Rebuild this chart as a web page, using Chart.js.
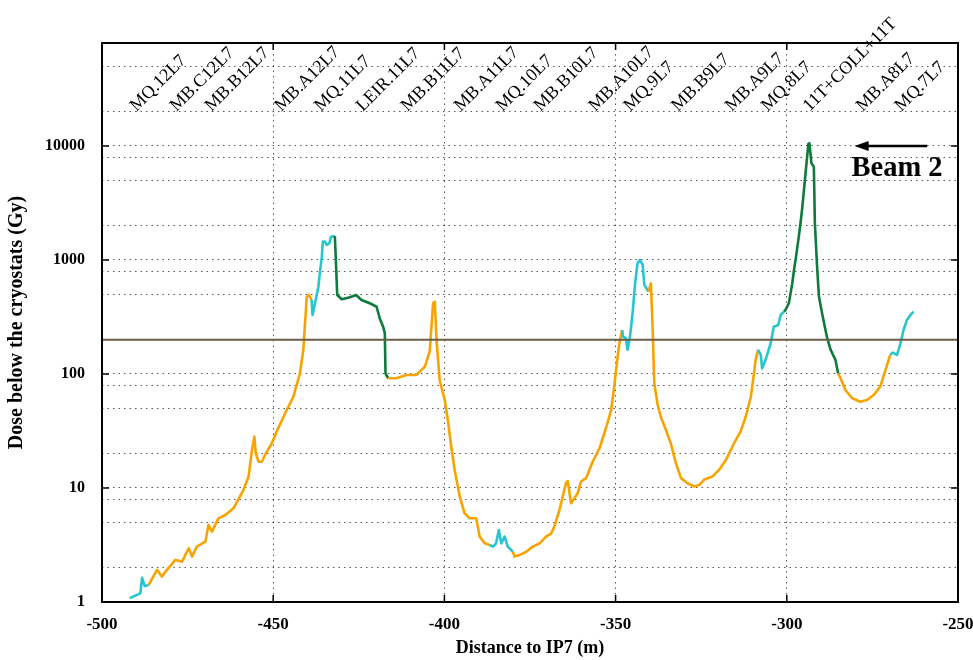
<!DOCTYPE html>
<html>
<head>
<meta charset="utf-8">
<script src="https://cdn.jsdelivr.net/npm/chart.js@4.4.1/dist/chart.umd.min.js"></script>
<style>
  body { margin: 0; background: #fff; }
  #wrap { width: 973px; height: 660px; position: relative; }
</style>
</head>
<body>
<div id="wrap"><canvas id="myChart"></canvas></div>
<script>
// distance to IP7 (m), dose (Gy), zone: 0 = orange, 1 = cyan, 2 = green
const distance = [
    -491.9, -488.8, -488.3, -487.5, -486.4,
    -483.9, -482.5, -481.5, -478.6, -476.6, -474.7, -473.7, -472.3, -469.8, -468.9, -467.9, -466.0, -464.0, -461.6,
    -458.7, -457.2, -456.2, -455.5, -455.1, -454.3, -453.3, -452.4, -450.4, -449.0, -446.5, -444.1, -442.2, -441.2,
    -440.2, -439.5, -438.8,
    -438.5, -437.8, -436.8, -436.5, -435.8, -435.5, -434.9, -434.4, -433.6, -433.1, -432.0,
    -431.7, -431.3, -430.0, -427.6, -425.8, -424.2, -421.8, -419.8, -418.9, -417.9, -417.4, -417.2, -416.4,
    -414.0, -411.1, -408.2, -405.7, -404.3, -403.3, -402.8, -402.3, -401.4, -399.9, -399.0, -398.0, -397.0, -395.5,
    -394.1, -392.6, -390.7, -389.7, -388.2, -386.8,
    -385.8, -384.9, -384.1, -383.4, -382.4, -381.5, -380.0,
    -379.5, -378.1, -376.1, -374.2, -372.2, -370.3, -368.8, -367.9, -366.4, -364.5, -364.0, -363.0, -361.1, -360.1,
    -358.6, -356.7, -354.7, -352.8, -351.3, -350.4, -349.4, -348.9, -348.1,
    -347.8, -347.0, -346.5, -345.8, -345.0, -344.3, -343.6, -342.9, -342.1, -341.6, -340.4,
    -339.7, -339.2, -338.7, -337.8, -336.8, -335.3, -333.9, -332.4, -330.9, -329.0, -327.1, -325.6, -324.2, -321.7,
    -319.8, -317.8, -315.4, -313.5, -312.0, -310.5, -309.6, -309.1, -308.4,
    -307.6, -307.2, -306.2, -304.7, -303.8, -302.5, -301.8, -300.8,
    -300.4, -299.4, -298.4, -297.9, -297.3, -296.5, -296.0, -295.5, -294.8, -294.2, -293.7, -293.4, -292.8, -292.1,
    -291.8, -291.1, -290.6, -289.7, -288.9, -288.2, -287.2, -285.8, -285.0,
    -284.3, -282.9, -280.9, -278.5, -276.6, -274.6, -272.7, -271.2, -269.8,
    -269.1, -267.8, -266.8, -265.9, -264.9, -263.9, -263.0
];
const dose = [
    1.08, 1.19, 1.63, 1.38, 1.41,
    1.91, 1.67, 1.84, 2.34, 2.26, 2.96, 2.50, 3.06, 3.38, 4.74, 4.14, 5.42, 5.80, 6.64,
    9.6, 12.6, 21.5, 28.2, 20.2, 17.0, 17.0, 19.5, 24.7, 31.2, 45.2, 63.2, 101, 163,
    476, 493, 446,
    329, 417, 583, 714, 1069, 1448, 1448, 1354, 1400, 1601, 1625,
    1000, 493, 452, 471, 493, 446, 417, 389, 308, 260, 228, 101, 91.7,
    91.7, 98, 98, 116, 157, 417, 431, 199, 88.6, 59.1, 39.5, 23.0, 14.4, 8.39,
    6.0, 5.42, 5.42, 3.74, 3.27, 3.16,
    3.06, 3.27, 4.28, 3.27, 3.74, 3.06, 2.76,
    2.50, 2.58, 2.76, 3.06, 3.27, 3.74, 4.0, 4.58, 6.41, 11.0, 11.5, 7.34, 8.99, 11.4,
    12.2, 17.0, 22.3, 33.6, 48.3, 77.4, 142, 186, 243,
    212, 206, 163, 212, 352, 625, 935, 1000, 904, 604, 527,
    625, 260, 82.9, 55.3, 42.2, 32.3, 24.7, 16.5, 12.2, 11.0, 10.3, 10.6, 11.8, 12.6,
    14.4, 17.6, 24.7, 31.2, 42.2, 63.2, 101, 133, 163,
    147, 112, 133, 186, 260, 269, 329, 352,
    364, 417, 625, 817, 1069, 1601, 2099, 2842, 4710, 7280, 10420, 10570, 7050, 6580,
    2099, 817, 476, 341, 260, 206, 163, 133, 101,
    91.7, 72.4, 61.2, 57.1, 59.1, 65.4, 77.4, 108, 147,
    154, 147, 186, 243, 298, 329, 352
];
const zone = [
    1, 1, 1, 1, 1,
    0, 0, 0, 0, 0, 0, 0, 0, 0, 0, 0, 0, 0, 0,
    0, 0, 0, 0, 0, 0, 0, 0, 0, 0, 0, 0, 0, 0,
    0, 0, 0,
    1, 1, 1, 1, 1, 1, 1, 1, 1, 1, 1,
    2, 2, 2, 2, 2, 2, 2, 2, 2, 2, 2, 2, 2,
    0, 0, 0, 0, 0, 0, 0, 0, 0, 0, 0, 0, 0, 0,
    0, 0, 0, 0, 0, 0,
    1, 1, 1, 1, 1, 1, 1,
    0, 0, 0, 0, 0, 0, 0, 0, 0, 0, 0, 0, 0, 0,
    0, 0, 0, 0, 0, 0, 0, 0, 0,
    1, 1, 1, 1, 1, 1, 1, 1, 1, 1, 1,
    0, 0, 0, 0, 0, 0, 0, 0, 0, 0, 0, 0, 0, 0,
    0, 0, 0, 0, 0, 0, 0, 0, 0,
    1, 1, 1, 1, 1, 1, 1, 1,
    2, 2, 2, 2, 2, 2, 2, 2, 2, 2, 2, 2, 2, 2,
    2, 2, 2, 2, 2, 2, 2, 2, 2,
    0, 0, 0, 0, 0, 0, 0, 0, 0,
    1, 1, 1, 1, 1, 1, 1
];
const zoneColors = ['#f7a400', '#25c6cf', '#0e7b3d'];

const threshold = 200;

// element names along the top, with their position (m)
const elementNames = ['MQ.12L7', 'MB.C12L7', 'MB.B12L7', 'MB.A12L7', 'MQ.11L7', 'LEIR.11L7', 'MB.B11L7',
    'MB.A11L7', 'MQ.10L7', 'MB.B10L7', 'MB.A10L7', 'MQ.9L7', 'MB.B9L7', 'MB.A9L7', 'MQ.8L7',
    '11T+COLL+11T', 'MB.A8L7', 'MQ.7L7'];
const elementPos = [-491.7, -480.0, -469.8, -449.4, -437.8, -425.6, -412.5,
    -397.0, -384.8, -373.7, -357.7, -347.5, -333.5, -317.8, -307.3,
    -295.1, -279.6, -268.3];

const xTicks = [-500, -450, -400, -350, -300, -250];
const yGrid = [1, 2, 5, 8, 10, 20, 50, 80, 100, 200, 500, 800, 1000, 2000, 5000, 8000, 10000, 20000, 50000, 80000];
const yLabels = [1, 10, 100, 1000, 10000];

const serif = "'Liberation Serif', 'Times New Roman', serif";

const curvePoints = distance.map((d, i) => ({ x: d, y: dose[i] }));

const decor = {
    id: 'decor',
    afterDraw(chart) {
        const ctx = chart.ctx;
        const area = chart.chartArea;
        const xs = chart.scales.x;
        const ys = chart.scales.y;
        ctx.save();
        // frame
        ctx.strokeStyle = '#000';
        ctx.lineWidth = 2;
        ctx.strokeRect(area.left, area.top, area.right - area.left, area.bottom - area.top);
        // inner ticks
        ctx.lineWidth = 1.5;
        ctx.beginPath();
        xTicks.slice(1, -1).forEach(v => {
            const px = xs.getPixelForValue(v);
            ctx.moveTo(px, area.bottom); ctx.lineTo(px, area.bottom - 7);
            ctx.moveTo(px, area.top); ctx.lineTo(px, area.top + 7);
        });
        yLabels.forEach(v => {
            const py = ys.getPixelForValue(v);
            ctx.moveTo(area.left, py); ctx.lineTo(area.left + 7, py);
            ctx.moveTo(area.right, py); ctx.lineTo(area.right - 7, py);
        });
        ctx.stroke();

        // element labels
        ctx.fillStyle = '#000';
        ctx.font = '18px ' + serif;
        ctx.textAlign = 'left';
        ctx.textBaseline = 'alphabetic';
        elementNames.forEach((name, i) => {
            ctx.save();
            ctx.translate(xs.getPixelForValue(elementPos[i]) + 6, area.top + 69);
            ctx.rotate(-Math.PI / 4);
            ctx.fillText(name, 0, 0);
            ctx.restore();
        });

        // beam direction
        const ay = ys.getPixelForValue(10000);
        const ax0 = xs.getPixelForValue(-259.0);
        const ax1 = xs.getPixelForValue(-280.2);
        ctx.strokeStyle = '#000';
        ctx.lineWidth = 2.5;
        ctx.beginPath();
        ctx.moveTo(ax0, ay); ctx.lineTo(ax1 + 8, ay);
        ctx.stroke();
        ctx.fillStyle = '#000';
        ctx.beginPath();
        ctx.moveTo(ax1, ay);
        ctx.lineTo(ax1 + 14, ay - 5);
        ctx.lineTo(ax1 + 14, ay + 5);
        ctx.closePath();
        ctx.fill();
        ctx.font = 'bold 28.5px ' + serif;
        ctx.fillText('Beam 2', xs.getPixelForValue(-281.1), ay + 30);
        ctx.restore();
    }
};

new Chart(document.getElementById('myChart').getContext('2d'), {
    type: 'line',
    data: {
        datasets: [
            {
                data: [{ x: -500, y: threshold }, { x: -250, y: threshold }],
                borderColor: '#6c5d44',
                borderWidth: 2,
                pointRadius: 0
            },
            {
                data: curvePoints,
                borderWidth: 2.6,
                pointRadius: 0,
                borderJoinStyle: 'round',
                segment: {
                    borderColor: c => zoneColors[zone[c.p1DataIndex]]
                }
            }
        ]
    },
    options: {
        responsive: true,
        maintainAspectRatio: false,
        animation: false,
        layout: { padding: { left: 0, right: 0, top: 43, bottom: 0 } },
        plugins: {
            legend: { display: false },
            tooltip: { enabled: false }
        },
        scales: {
            x: {
                type: 'linear',
                min: -500,
                max: -250,
                afterBuildTicks: s => { s.ticks = xTicks.map(v => ({ value: v })); },
                afterFit: s => {
                    s.height = 58;
                    s.paddingLeft = 0;
                    s.paddingRight = 15;
                },
                ticks: {
                    autoSkip: false,
                    maxRotation: 0,
                    padding: 12,
                    color: '#000',
                    font: { family: serif, size: 17, weight: 'bold' }
                },
                grid: {
                    drawTicks: false,
                    color: c => (c.tick && (c.tick.value === -500 || c.tick.value === -250)) ? 'rgba(0,0,0,0)' : 'rgba(0,0,0,0.65)',
                    lineWidth: 1
                },
                border: { display: false, dash: [1.5, 4] },
                title: {
                    display: true,
                    text: 'Distance to IP7 (m)',
                    color: '#000',
                    font: { family: serif, size: 18, weight: 'bold' },
                    padding: { top: 0, bottom: 1 }
                }
            },
            y: {
                type: 'logarithmic',
                min: 1,
                max: 80000,
                afterBuildTicks: s => { s.ticks = yGrid.map(v => ({ value: v })); },
                afterFit: s => { s.width = 102; },
                ticks: {
                    autoSkip: false,
                    padding: 17,
                    color: '#000',
                    font: { family: serif, size: 16, weight: 'bold' },
                    callback: v => yLabels.includes(v) ? String(v) : ''
                },
                grid: {
                    drawTicks: false,
                    color: c => (c.tick && (c.tick.value === 1 || c.tick.value === 80000)) ? 'rgba(0,0,0,0)' : 'rgba(0,0,0,0.65)',
                    lineWidth: 1
                },
                border: { display: false, dash: [1.5, 4] },
                title: {
                    display: true,
                    text: 'Dose below the cryostats (Gy)',
                    color: '#000',
                    font: { family: serif, size: 20, weight: 'bold' },
                    padding: { top: 5, bottom: 0 }
                }
            }
        }
    },
    plugins: [decor]
});
</script>
</body>
</html>
